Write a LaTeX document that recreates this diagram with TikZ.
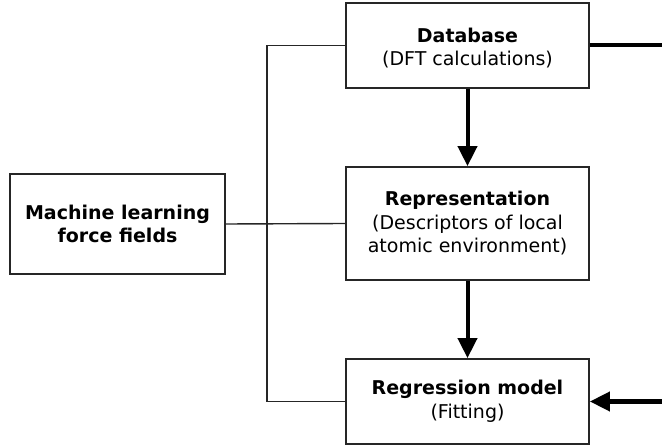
\documentclass[tikz,border=0pt]{standalone}
\usepackage{fontspec}
\setmainfont{DejaVu Sans}
\usetikzlibrary{arrows.meta}
\begin{document}
\begin{tikzpicture}[x=1pt,y=1pt,
  box/.style={draw=black!85, line width=1.8pt, align=center, inner sep=0pt,
    font=\fontsize{19}{23.5}\selectfont},
  thin/.style={draw=black!85, line width=1.4pt},
  thick/.style={draw=black, line width=4pt},
  thickarrow/.style={thick, -{Triangle[length=20pt,width=19pt]}}]
\useasboundingbox (0,0) rectangle (662,445);
\node[box, minimum width=215pt, minimum height=100pt] (mlff) at (117.5,221) {\textbf{Machine learning}\\\textbf{force fields}};
\node[box, minimum width=243pt, minimum height=85pt] (db) at (467.5,399.5) {\rule{0pt}{20pt}\textbf{Database}\\(DFT calculations)};
\node[box, minimum width=243pt, minimum height=85pt] (reg) at (467.5,43.5) {\textbf{Regression model}\\(Fitting)};
\node[box, minimum width=243pt, minimum height=113pt] (rep) at (467.5,221.5) {\textbf{Representation}\\(Descriptors of local\\atomic environment)};
\coordinate (sx) at (267,0);
\coordinate (rx) at (662,0);
\draw[thin] (db.west) -- (db.west -| sx) -- (reg.west -| sx) -- (reg.west);
\draw[thin] (mlff.east) -- (rep.west);
\draw[thickarrow] (db.south) -- (rep.north);
\draw[thickarrow] (rep.south) -- (reg.north);
\draw[thick] (db.east) -- (db.east -| rx);
\draw[thickarrow] (reg.east -| rx) -- (reg.east);
\end{tikzpicture}
\end{document}
